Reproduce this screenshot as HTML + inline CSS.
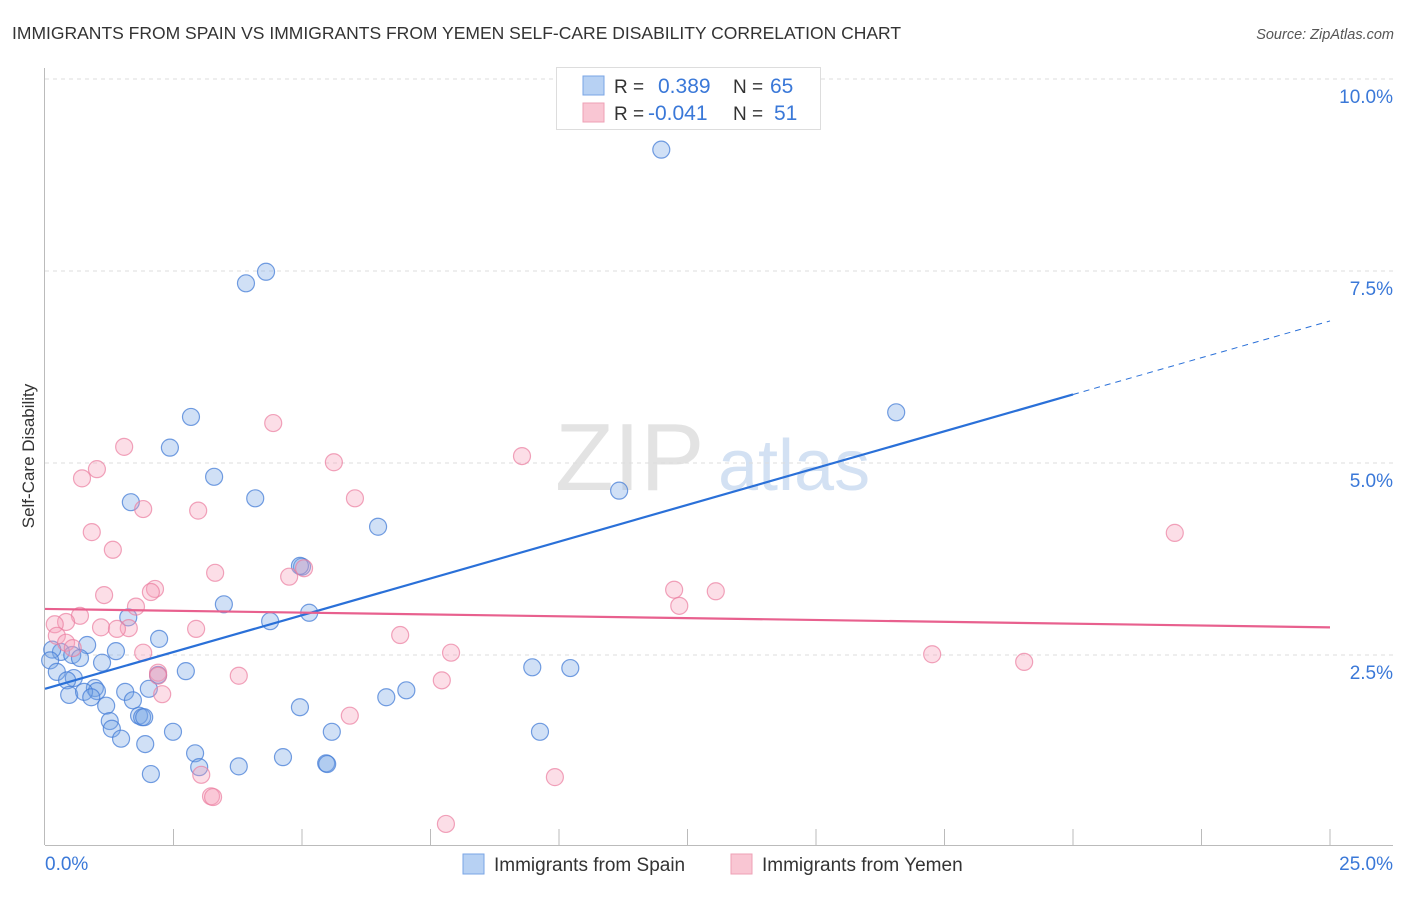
<!DOCTYPE html>
<html><head><meta charset="utf-8"><style>
body{margin:0;background:#fff;font-family:"Liberation Sans",sans-serif;}
svg text{font-family:"Liberation Sans",sans-serif;}
</style></head><body>
<svg id="chart" width="1406" height="892" viewBox="0 0 1406 892" xmlns="http://www.w3.org/2000/svg">
<text x="12" y="39" font-size="17.5" fill="#333">IMMIGRANTS FROM SPAIN VS IMMIGRANTS FROM YEMEN SELF-CARE DISABILITY CORRELATION CHART</text>
<text x="1394" y="39" font-size="14.5" fill="#555" font-style="italic" text-anchor="end">Source: ZipAtlas.com</text>
<text transform="translate(34,456) rotate(-90)" font-size="17" fill="#333" text-anchor="middle">Self-Care Disability</text>
<g>
<text x="555" y="490" font-size="96" fill="#e3e3e3" font-family="Liberation Serif">ZIP</text>
<text x="718" y="490" font-size="72" fill="#d3e1f3">atlas</text>
</g>
<g id="grid"></g>
<g id="axes"></g>
<g id="marks"></g>
<g>
<rect x="556.5" y="67.5" width="264" height="62" fill="#fff" stroke="#ddd"/>
<rect x="583" y="76" width="21" height="19" fill="#b7d1f3" stroke="#7aa5e6"/>
<rect x="583" y="103" width="21" height="19" fill="#f9c6d3" stroke="#eea0b6"/>
<text x="614" y="93" font-size="19" fill="#333">R =</text>
<text x="658" y="93" font-size="21" fill="#3a78d8">0.389</text>
<text x="733" y="93" font-size="19" fill="#333">N =</text>
<text x="770" y="93" font-size="21" fill="#3a78d8">65</text>
<text x="614" y="120" font-size="19" fill="#333">R =</text>
<text x="648" y="120" font-size="21" fill="#3a78d8">-0.041</text>
<text x="733" y="120" font-size="19" fill="#333">N =</text>
<text x="774" y="120" font-size="21" fill="#3a78d8">51</text>
</g>
<g>
<rect x="463" y="854" width="21" height="20" fill="#b7d1f3" stroke="#7aa5e6"/>
<text x="494" y="871" font-size="19" fill="#333">Immigrants from Spain</text>
<rect x="731" y="854" width="21" height="20" fill="#f9c6d3" stroke="#eea0b6"/>
<text x="762" y="871" font-size="19" fill="#333">Immigrants from Yemen</text>
</g>
</svg>
<script>
const spainX=[11.99,4.30,3.91,16.56,2.84,2.43,3.29,1.67,4.09,11.17,6.48,5.00,3.48,1.62,5.14,4.38,2.22,0.82,1.38,0.31,0.14,0.53,0.68,1.11,0.10,9.48,10.22,2.74,0.23,0.56,0.43,2.20,0.97,2.02,1.56,1.01,0.47,0.76,0.90,1.71,7.03,6.64,1.19,4.96,1.26,1.30,1.83,1.89,1.93,1.48,1.95,2.49,5.58,9.63,2.92,4.63,3.00,3.77,5.47,5.49,2.06,4.96];
const spainY=[9.08,7.49,7.34,5.66,5.60,5.20,4.82,4.49,4.54,4.64,4.17,3.65,3.16,2.99,3.05,2.94,2.71,2.63,2.55,2.54,2.57,2.50,2.46,2.40,2.43,2.34,2.33,2.29,2.28,2.20,2.17,2.24,2.07,2.06,2.02,2.03,1.98,2.02,1.95,1.91,2.04,1.95,1.84,1.82,1.64,1.54,1.71,1.69,1.69,1.41,1.34,1.50,1.50,1.50,1.22,1.17,1.04,1.05,1.09,1.08,0.95,3.66];
const yemenX=[4.44,1.54,1.01,0.72,5.62,9.28,6.03,1.91,2.98,0.91,1.32,21.98,3.31,4.75,5.04,1.15,2.14,2.06,1.77,12.24,13.05,12.34,0.68,0.41,0.19,1.09,1.63,1.40,2.94,0.23,6.91,0.41,0.54,1.91,7.90,17.26,19.05,2.20,3.77,7.72,2.28,5.93,3.04,9.92,3.23,3.27,7.80,2.20];
const yemenY=[5.52,5.21,4.92,4.80,5.01,5.09,4.54,4.40,4.38,4.10,3.87,4.09,3.57,3.52,3.63,3.28,3.36,3.32,3.13,3.35,3.33,3.14,3.01,2.93,2.90,2.86,2.85,2.84,2.84,2.75,2.76,2.66,2.59,2.53,2.53,2.51,2.41,2.27,2.23,2.17,1.99,1.71,0.94,0.91,0.66,0.65,0.30,2.23];
const spainTrend=[2.06,6.85]; // y at x=0 and x=25
const yemenTrend=[3.10,2.86];
const yTicks=[2.5,5.0,7.5,10.0];
const xTickVals=[2.5,5,7.5,10,12.5,15,17.5,20,22.5,25];
const NS="http://www.w3.org/2000/svg";
const X=v=>45+v/25*1285;
const Y=v=>847-v*76.8;
function mk(tag,attrs,parent){const e=document.createElementNS(NS,tag);for(const k in attrs)e.setAttribute(k,attrs[k]);parent.appendChild(e);return e;}
const grid=document.getElementById('grid'),axes=document.getElementById('axes'),marks=document.getElementById('marks');
yTicks.forEach(t=>{
  const l=mk('line',{x1:45,x2:1393,y1:Y(t),y2:Y(t),stroke:'#ddd','stroke-dasharray':'4,4'},grid);
  
  
  const tx=mk('text',{x:1393,y:Y(t)+24,'font-size':19,fill:'#3a78d8','text-anchor':'end'},grid);
  tx.textContent=t.toFixed(1)+'%';
  
  
});
const ya=mk('line',{x1:44.5,x2:44.5,y1:68,y2:845,stroke:'#bbb'},axes);


const xa=mk('line',{x1:45,x2:1393,y1:845.5,y2:845.5,stroke:'#bbb'},axes);


xTickVals.forEach(t=>{
  const l=mk('line',{x1:X(t),x2:X(t),y1:829,y2:845,stroke:'#bbb'},axes);
  
  
});
const xl0=mk('text',{x:45,y:870,'font-size':19,fill:'#3a78d8'},axes);xl0.textContent='0.0%';


const xl1=mk('text',{x:1393,y:870,'font-size':19,fill:'#3a78d8','text-anchor':'end'},axes);xl1.textContent='25.0%';


function pts(xs,ys,fill,stroke,name){xs.forEach((x,i)=>{
  const c=mk('circle',{cx:X(x),cy:Y(ys[i]),r:8.5,fill:fill,stroke:stroke,'stroke-width':1.2},marks);
  
  
});}
pts(spainX,spainY,'rgba(120,165,230,0.35)','rgba(70,125,215,0.75)','spain-point');
pts(yemenX,yemenY,'rgba(245,160,185,0.35)','rgba(235,125,160,0.7)','yemen-point');
const sAt=x=>spainTrend[0]+(spainTrend[1]-spainTrend[0])*x/25;
const t1=mk('line',{x1:X(0),y1:Y(sAt(0)),x2:X(20),y2:Y(sAt(20)),stroke:'#2a70d8','stroke-width':2.2},marks);


const t2=mk('line',{x1:X(20),y1:Y(sAt(20)),x2:X(25),y2:Y(sAt(25)),stroke:'#2a70d8','stroke-width':1,'stroke-dasharray':'6,5'},marks);


const t3=mk('line',{x1:X(0),y1:Y(yemenTrend[0]),x2:X(25),y2:Y(yemenTrend[1]),stroke:'#e8608e','stroke-width':2.2},marks);


</script>
</body></html>
